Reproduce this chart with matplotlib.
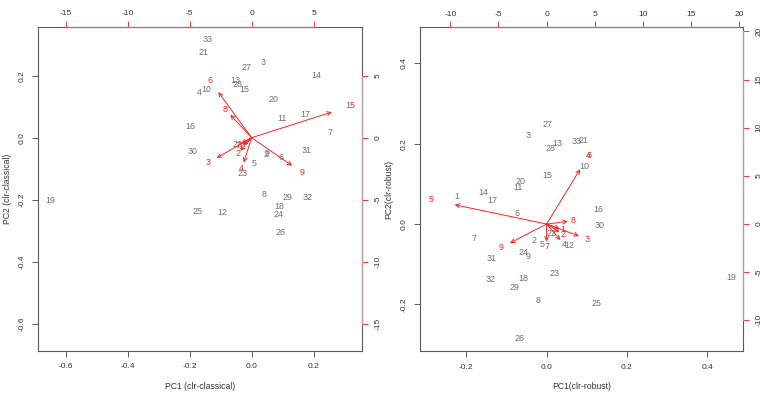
import matplotlib
matplotlib.use("Agg")
import matplotlib.pyplot as plt
import numpy as np

plt.rcParams['font.family'] = ['Liberation Sans', 'DejaVu Sans']

# ---------------- data ----------------
obs_labels = [str(i) for i in range(1, 34)]
var_labels = [str(i) for i in range(1, 10)]

# classical clr PCA scores (PC1, PC2)
cls_x = [0.311, 0.045, 0.036, -0.169, 0.008, 0.094, 0.253, 0.040, 0.051, -0.145,
         0.098, -0.093, -0.052, 0.210, -0.024, -0.197, 0.173, 0.090, -0.651, 0.070,
         -0.156, -0.046, -0.028, 0.088, -0.173, 0.092, -0.017, -0.045, 0.115, -0.189,
         0.178, 0.182, -0.143]
cls_y = [0.103, -0.055, 0.244, 0.147, -0.082, -0.065, 0.016, -0.182, -0.052, 0.155,
         0.061, -0.242, 0.185, 0.200, 0.157, 0.035, 0.075, -0.221, -0.202, 0.122,
         0.276, -0.022, -0.116, -0.247, -0.237, -0.305, 0.225, 0.173, -0.194, -0.046,
         -0.042, -0.194, 0.318]
# classical loadings (secondary scale)
cls_lx = [-0.90, -1.13, -3.52, -0.80, 8.09, -3.36, -1.06, -2.15, 4.08]
cls_ly = [-0.75, -1.31, -2.04, -2.50, 2.58, 4.60, -0.59, 2.31, -2.82]

# robust clr PCA scores
rob_x = [-0.224, -0.031, -0.045, 0.105, -0.010, -0.074, -0.181, -0.022, -0.045, 0.095,
         -0.072, 0.056, 0.026, -0.157, 0.003, 0.128, -0.135, -0.059, 0.461, -0.066,
         0.093, 0.012, 0.020, -0.058, 0.124, -0.067, 0.0015, 0.011, -0.081, 0.132,
         -0.136, -0.139, 0.076]
rob_y = [0.068, -0.042, 0.221, 0.170, -0.052, 0.025, -0.037, -0.191, -0.080, 0.143,
         0.090, -0.054, 0.201, 0.079, 0.120, 0.035, 0.058, -0.136, -0.133, 0.105,
         0.208, -0.023, -0.124, -0.070, -0.198, -0.286, 0.249, 0.189, -0.157, -0.0025,
         -0.087, -0.138, 0.206]
# robust loadings (secondary scale)
rob_lx = [1.71, 1.66, 4.22, 1.80, -11.94, 4.36, 0.00, 2.76, -4.75]
rob_ly = [-0.62, -1.04, -1.56, -2.08, 2.50, 7.11, -2.29, 0.34, -2.47]

cls_xlabel = "PC1 (clr-classical)"
cls_ylabel = "PC2 (clr-classical)"
rob_xlabel = "PC1(clr-robust)"
rob_ylabel = "PC2(clr-robust)"

# ---------------- figure ----------------
W, H = 763, 398
fig = plt.figure(figsize=(W / 100, H / 100), dpi=100)
fig.patch.set_facecolor('white')

GREY = '#6f6f6f'
BOX = '#5a5a5a'
TXT = '#333333'
FS_TICK = 6.0
FS_PT = 6.4


def biplot(rect, sx, sy, lx, ly, ratio, xlim, ylim, pticks, sticks, xlabel, ylabel):
    ax = fig.add_axes(rect)
    ax.set_xlim(*xlim)
    ax.set_ylim(*ylim)
    for s in ax.spines.values():
        s.set_color(BOX)
        s.set_linewidth(0.8)
    ax.set_xticks(pticks)
    ax.set_yticks(pticks)
    ax.xaxis.set_major_formatter(matplotlib.ticker.FormatStrFormatter('%.1f'))
    ax.yaxis.set_major_formatter(matplotlib.ticker.FormatStrFormatter('%.1f'))
    ax.tick_params(direction='out', length=4, width=0.7, color=BOX,
                   labelsize=FS_TICK, labelcolor=TXT, pad=5)
    ax.tick_params(axis='y', labelrotation=90)
    for t in ax.get_yticklabels():
        t.set_va('center')
    ax.set_xlabel(xlabel, fontsize=FS_TICK + 0.2, color=TXT, labelpad=8)
    ax.set_ylabel(ylabel, fontsize=FS_TICK + 0.2, color=TXT, labelpad=5)

    # observation labels
    for lab, x, y in zip(obs_labels, sx, sy):
        ax.text(x, y, lab, ha='center', va='center', fontsize=FS_PT, color=GREY)

    # secondary axes
    secx = ax.secondary_xaxis('top', functions=(lambda v: v * ratio, lambda v: v / ratio))
    secy = ax.secondary_yaxis('right', functions=(lambda v: v * ratio, lambda v: v / ratio))
    secx.set_xticks(sticks)
    secy.set_yticks(sticks)
    secx.xaxis.set_major_formatter(matplotlib.ticker.FormatStrFormatter('%d'))
    secy.yaxis.set_major_formatter(matplotlib.ticker.FormatStrFormatter('%d'))
    for sa in (secx, secy):
        sa.tick_params(direction='out', length=4, width=0.7, color='#ff3030',
                       labelsize=FS_TICK, labelcolor=TXT, pad=5)
        for s in sa.spines.values():
            s.set_visible(False)
    secx.tick_params(pad=3)
    secy.tick_params(axis='y', labelrotation=90, pad=5)
    for t in secy.get_yticklabels():
        t.set_va('center')

    # red-ish axis line over tick range
    lo, hi = sticks[0] / ratio, sticks[-1] / ratio
    ax.plot([lo, hi], [ylim[1], ylim[1]], color='#a07878', lw=0.9, clip_on=False, zorder=4)
    ax.plot([xlim[1], xlim[1]], [lo, hi], color='#c09a9a', lw=0.9, clip_on=False, zorder=4)

    # variable labels and arrows
    for lab, x2, y2 in zip(var_labels, lx, ly):
        x, y = x2 / ratio, y2 / ratio
        ax.annotate('', xy=(0.8 * x, 0.8 * y), xytext=(0, 0),
                    arrowprops=dict(arrowstyle='->', color='#ff2020', lw=0.7,
                                    shrinkA=0, shrinkB=0, mutation_scale=7))
        ax.text(x, y, lab, ha='center', va='center', fontsize=FS_PT, color='#ff2020')
    return ax


biplot([38 / W, 47 / H, 324 / W, 324 / H], cls_x, cls_y, cls_lx, cls_ly, 25.0,
       (-0.689, 0.356), (-0.688, 0.357), [-0.6, -0.4, -0.2, 0.0, 0.2],
       [-15, -10, -5, 0, 5], cls_xlabel, cls_ylabel)

biplot([419.7 / W, 46.7 / H, 323.6 / W, 324 / H], rob_x, rob_y, rob_lx, rob_ly, 41.7,
       (-0.316, 0.490), (-0.317, 0.490), [-0.2, 0.0, 0.2, 0.4],
       [-10, -5, 0, 5, 10, 15, 20], rob_xlabel, rob_ylabel)

fig.savefig('out.png', dpi=100, facecolor='white')
